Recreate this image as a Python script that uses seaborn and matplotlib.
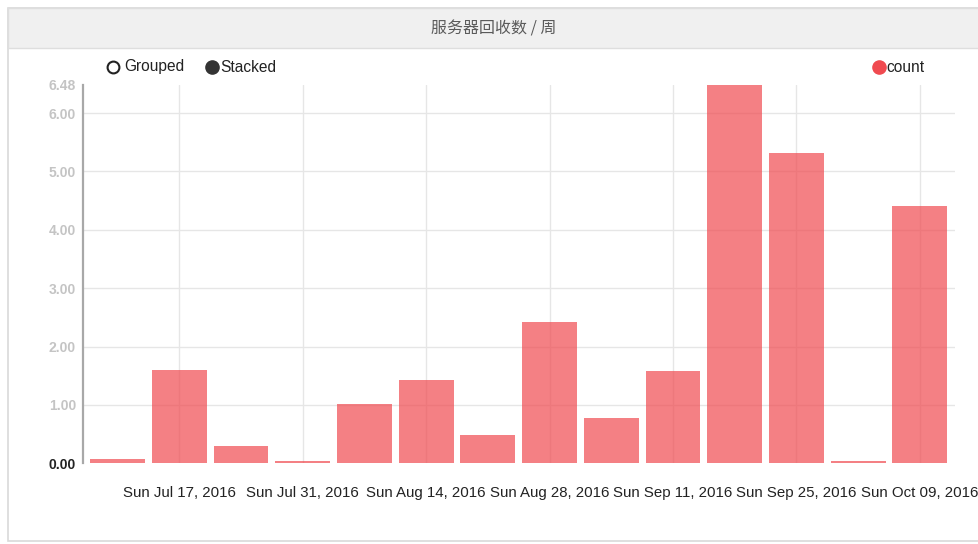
import pandas as pd
import matplotlib.pyplot as plt
import seaborn as sns
from matplotlib.patches import Rectangle
from matplotlib.lines import Line2D

# weekly buckets (week starting on Sunday)
weeks = ['2016-07-10', '2016-07-17', '2016-07-24', '2016-07-31', '2016-08-07',
         '2016-08-14', '2016-08-21', '2016-08-28', '2016-09-04', '2016-09-11',
         '2016-09-18', '2016-09-25', '2016-10-02', '2016-10-09']
counts = [0.08, 1.60, 0.30, 0.045, 1.02, 1.42, 0.49, 2.42, 0.78, 1.58, 6.48, 5.31, 0.045, 4.41]
tick_labels = ['Sun Jul 17, 2016', 'Sun Jul 31, 2016', 'Sun Aug 14, 2016', 'Sun Aug 28, 2016',
               'Sun Sep 11, 2016', 'Sun Sep 25, 2016', 'Sun Oct 09, 2016']
y_ticks = [0, 1, 2, 3, 4, 5, 6]

W, H = 979, 544
bar_color = '#f04a50'

sns.set_style('white')
plt.rcParams['font.family'] = ['Liberation Sans', 'Noto Sans CJK SC', 'DejaVu Sans']

df = pd.DataFrame({'week': weeks, 'count': counts})

fig = plt.figure(figsize=(W / 100, H / 100), dpi=100)

# panel frame and title band
fig.add_artist(Rectangle((8 / W, 1 - 541 / H), 1.0, 533 / H, transform=fig.transFigure,
                         facecolor='white', edgecolor='#d9d9d9', linewidth=1.2, zorder=0))
fig.add_artist(Rectangle((8 / W, 1 - 48 / H), 1.0, 40 / H, transform=fig.transFigure,
                         facecolor='#f0f0f0', edgecolor='#dedede', linewidth=1.0, zorder=0))
fig.text(493.5 / W, 1 - 29 / H, '服务器回收数 / 周', ha='center', va='center',
         fontsize=11.5, color='#5a5a5a', family=['Noto Sans CJK SC', 'DejaVu Sans'])

ax = fig.add_axes([83 / W, 1 - 463.3 / H, 872 / W, 378.3 / H])
ax.set_facecolor('none')

sns.barplot(data=df, x='week', y='count', color=bar_color, saturation=1, width=0.89,
            alpha=0.7, errorbar=None, linewidth=0, ax=ax, zorder=2)

ymax = max(counts)
ax.set_ylim(0, ymax)
ax.set_xlim(-0.56, 13.57)

# grid lines
for v in y_ticks[1:]:
    ax.axhline(v, color='#e6e6e6', linewidth=1, zorder=0)
tick_pos = list(range(1, len(weeks), 2))
for p in tick_pos:
    ax.axvline(p, color='#e6e6e6', linewidth=1, zorder=0)

ax.set_xticks(tick_pos)
ax.set_xticklabels(tick_labels, fontsize=10.8, color='#222222')
ax.tick_params(axis='x', length=0, pad=16)

ax.set_yticks(y_ticks + [ymax])
ax.set_yticklabels(['0.00'] + [f'{v:.2f}' for v in y_ticks[1:]] + [f'{ymax:.2f}'], fontsize=10)
ax.tick_params(axis='y', length=3, width=1, color='#aaaaaa', pad=2)
for i, lab in enumerate(ax.get_yticklabels()):
    lab.set_fontweight('bold')
    lab.set_color('#222222' if i == 0 else '#c4c4c4')

for s in ['top', 'right', 'bottom']:
    ax.spines[s].set_visible(False)
ax.spines['left'].set_color('#a8a8a8')
ax.spines['left'].set_linewidth(1.6)
ax.set_xlabel('')
ax.set_ylabel('')

# legend controls
ly = 1 - 67 / H
fig.add_artist(Line2D([113.5 / W], [ly], marker='o', markersize=8.5, markerfacecolor='white',
                      markeredgecolor='#222222', markeredgewidth=1.5, transform=fig.transFigure))
fig.text(124 / W, ly, 'Grouped', ha='left', va='center', fontsize=11.2, color='#222222')
fig.add_artist(Line2D([212.5 / W], [ly], marker='o', markersize=9.5, markerfacecolor='#333333',
                      markeredgecolor='#333333', transform=fig.transFigure))
fig.text(220 / W, ly, 'Stacked', ha='left', va='center', fontsize=11.2, color='#222222')
fig.add_artist(Line2D([879 / W], [ly], marker='o', markersize=9.5, markerfacecolor=bar_color,
                      markeredgecolor=bar_color, transform=fig.transFigure))
fig.text(886 / W, ly, 'count', ha='left', va='center', fontsize=11.2, color='#222222')

fig.savefig('out.png', dpi=100)
